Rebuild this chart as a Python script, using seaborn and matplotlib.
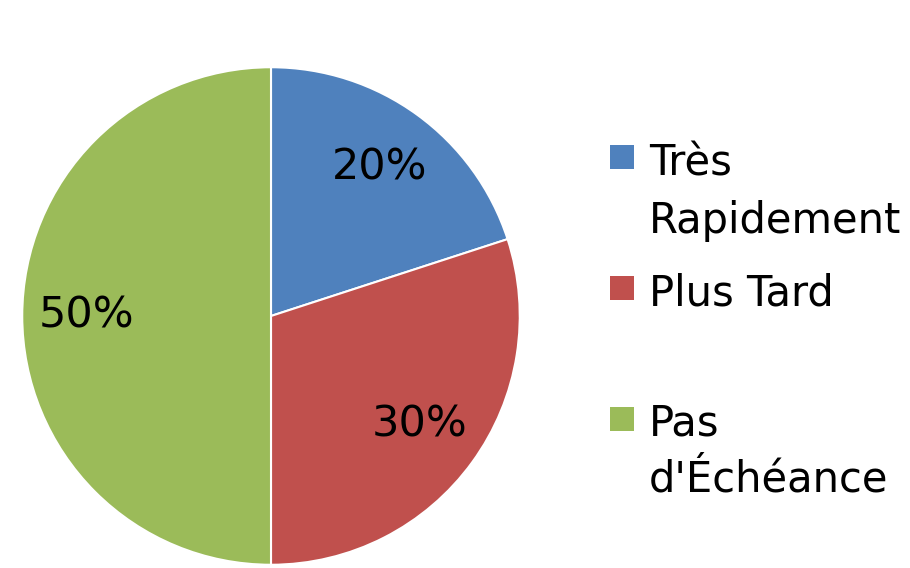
import matplotlib
matplotlib.use("Agg")
import matplotlib.pyplot as plt
from matplotlib.patches import Rectangle
import seaborn as sns

categories = ["Très\nRapidement", "Plus Tard", "Pas\nd'Échéance"]
values = [20, 30, 50]
colors = ["#4F81BD", "#C0504D", "#9BBB59"]

sns.set_theme(style="white")
plt.rcParams['font.family'] = ['DejaVu Sans']

W, H = 910, 568
fig = plt.figure(figsize=(W / 100, H / 100), dpi=100)
fig.patch.set_facecolor("white")

# pie axes: centre (271,316) px, radius 250 px
cx, cy, r = 271, 316, 250
ax = fig.add_axes([(cx - r) / W, (H - cy - r) / H, 2 * r / W, 2 * r / H])
wedges, texts, autotexts = ax.pie(
    values, colors=colors, startangle=90, counterclock=False,
    autopct="%d%%", pctdistance=0.74,
    wedgeprops=dict(edgecolor="white", linewidth=1.5),
    textprops=dict(fontsize=31, color="black"))
ax.set_xlim(-1.005, 1.005)
ax.set_ylim(-1.005, 1.005)
ax.set_aspect("equal")

# legend drawn in figure pixel layout
leg_square_x = 610
sq = 24
item_tops = [145, 276, 407]
line_baselines = [[175, 233], [305], [435, 492]]
for col, lab, top, bls in zip(colors, categories, item_tops, line_baselines):
    fig.patches.append(Rectangle((leg_square_x / W, (H - top - sq) / H), sq / W, sq / H,
                                 transform=fig.transFigure, facecolor=col,
                                 edgecolor="none"))
    for line, bl in zip(lab.split("\n"), bls):
        fig.text(649 / W, (H - bl) / H, line, fontsize=30, color="black",
                 ha="left", va="baseline")

fig.savefig("out.png", dpi=100, facecolor="white")
